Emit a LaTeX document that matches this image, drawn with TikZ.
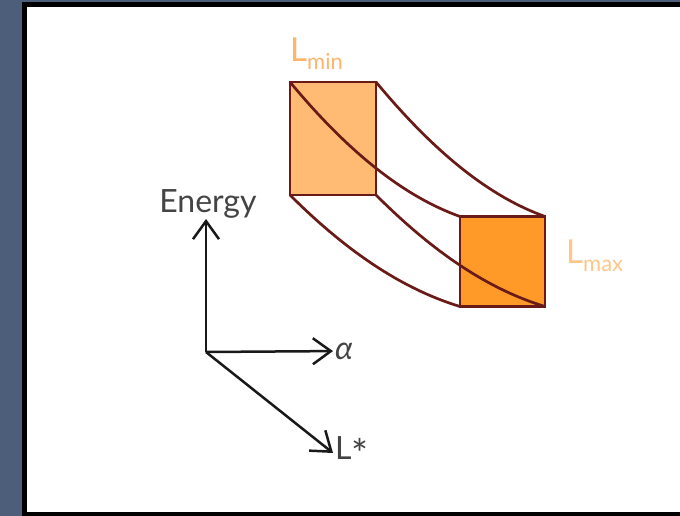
\documentclass[tikz,border=0pt]{standalone}
\usepackage{fontspec}
\setmainfont{Lato}
\usepackage{xcolor}
\usetikzlibrary{positioning,arrows.meta}
\definecolor{slate}{HTML}{4C5E7A}
\definecolor{rim}{HTML}{6A1B17}
\definecolor{minfill}{HTML}{FFBB73}
\definecolor{maxfill}{HTML}{FF9A28}
\definecolor{minlab}{HTML}{FFB46A}
\definecolor{maxlab}{HTML}{FFC68A}
\definecolor{ink}{HTML}{444444}

\begin{document}
\begin{tikzpicture}[x=1pt, y=-1pt,
node distance=4pt,
sqbox/.style={draw=rim, line width=2.7pt, inner sep=0pt, outer sep=0pt},
rimline/.style={rim, line width=2.7pt},
axisarrow/.style={-{Straight Barb[length=18pt,width=26pt,line width=2.5pt]}, line width=2.5pt, black!90},
axlabel/.style={inner sep=2pt, font=\fontsize{32}{32}\selectfont, text=ink},
sizelabel/.style={inner sep=0pt, font=\fontsize{33}{33}\selectfont}
]
\useasboundingbox (0,0) rectangle (680,516);
\fill[slate] (0,0) rectangle (680,516);
\fill[black] (22,2) rectangle (680,516);
\fill[white] (27,7) rectangle (680,512);

\node[sqbox, fill=minfill, minimum width=86pt, minimum height=113pt] (lmin) at (333,138.5) {};
\node[sqbox, fill=maxfill, minimum width=85pt, minimum height=90pt] (lmax) at (502.5,261.5) {};
\draw[rimline] (lmin.north west) .. controls +(58,70) and +(-56,-20) .. (lmax.north west);
\draw[rimline] (lmin.north east) .. controls +(58,70) and +(-56,-20) .. (lmax.north east);
\draw[rimline] (lmin.south west) .. controls +(58,58) and +(-56,-17) .. (lmax.south west);
\draw[rimline] (lmin.south east) .. controls +(58,58) and +(-56,-17) .. (lmax.south east);

\node[sizelabel, text=minlab, above right=12pt and 0pt of lmin.north west] (minlabel) {L\raisebox{-8pt}{\fontsize{22}{22}\selectfont min}};
\node[sizelabel, text=maxlab, right=21pt of lmax.east, yshift=6pt] (maxlabel) {L\raisebox{-8pt}{\fontsize{22}{22}\selectfont max}};

\coordinate (o) at (206,352);
\node[axlabel, inner sep=0pt, anchor=south] (energy) at (208,219) {Energy};
\node[axlabel, anchor=west] (alpha) at (333,351) {\itshape α};
\node[axlabel, anchor=west] (lstar) at (333,453) {L\raisebox{-9pt}{\fontsize{40}{40}\selectfont *}};
\draw[axisarrow] (o) -- (o |- energy.south);
\draw[axisarrow] (o) -- (alpha);
\draw[axisarrow] (o) -- (lstar.west);
\end{tikzpicture}
\end{document}
